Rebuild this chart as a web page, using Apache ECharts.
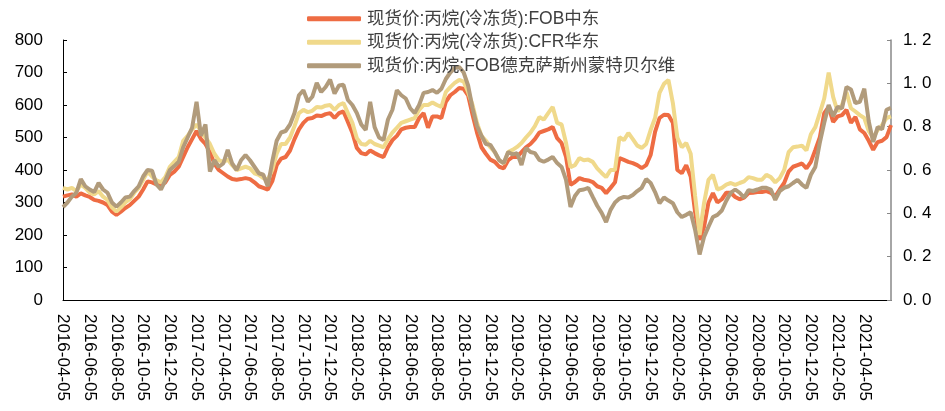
<!DOCTYPE html>
<html>
<head>
<meta charset="utf-8">
<script src="https://cdn.jsdelivr.net/npm/echarts@6/dist/echarts.min.js"></script>
<style>
  html, body { margin: 0; padding: 0; background: #fff; }
  #chart { width: 945px; height: 411px; }
</style>
</head>
<body>
<div id="chart"></div>
<script>
// Sampling days within each month (5th, 15th, 25th), April 2016 to early June 2021
const sampleDays = [5, 15, 25];
const dates = [];
for (let y = 2016; y <= 2021; y++) {
  for (let m = 1; m <= 12; m++) {
    if (y === 2016 && m < 4) continue;
    for (const d of sampleDays) {
      if (y === 2021 && (m > 6 || (m === 6 && d > 5))) continue;
      dates.push(y + '-' + String(m).padStart(2, '0') + '-' + String(d).padStart(2, '0'));
    }
  }
}

// Axis labels shown on the date axis
const tickLabels = [
  '2016-04-05','2016-06-05','2016-08-05','2016-10-05','2016-12-05',
  '2017-02-05','2017-04-05','2017-06-05','2017-08-05','2017-10-05','2017-12-05',
  '2018-02-05','2018-04-05','2018-06-05','2018-08-05','2018-10-05','2018-12-05',
  '2019-02-05','2019-04-05','2019-06-05','2019-08-05','2019-10-05','2019-12-05',
  '2020-02-05','2020-04-05','2020-06-05','2020-08-05','2020-10-05','2020-12-05',
  '2021-02-05','2021-04-05'
];

const seriesNames = [
  '现货价:丙烷(冷冻货):FOB中东',
  '现货价:丙烷(冷冻货):CFR华东',
  '现货价:丙烷:FOB德克萨斯州蒙特贝尔维'
];

// FOB Middle East, USD/t (left axis)
const fobMiddleEast = [
  318,322,325,318,328,322,317,308,305,300,
  292,272,262,272,283,292,305,318,340,365,
  362,356,355,362,385,395,410,440,470,495,
  520,495,480,455,420,400,390,380,372,370,
  372,375,372,362,350,345,340,365,415,435,
  440,460,495,525,545,558,560,568,566,572,
  575,560,575,580,548,515,468,452,448,460,
  452,445,440,470,492,505,525,530,532,532,
  560,575,530,565,565,560,610,630,640,652,
  650,630,570,515,470,450,432,425,410,405,
  430,440,440,455,470,480,495,515,520,525,
  532,498,483,440,354,363,375,370,368,363,
  350,345,329,345,362,437,431,425,421,415,
  406,415,446,517,560,570,569,545,400,390,
  415,380,270,185,225,300,329,300,310,330,
  330,317,310,315,329,330,332,332,335,330,
  318,340,360,395,410,415,420,405,425,462,
  500,575,594,548,565,569,585,545,563,525,
  514,490,462,486,490,501,538
];

// CFR East China, USD/t (left axis)
const cfrEastChina = [
  345,340,345,335,355,345,330,325,335,318,
  308,285,272,285,300,310,330,345,370,395,
  380,368,362,378,410,425,440,490,505,525,
  540,520,500,480,450,430,425,432,415,400,
  405,410,405,390,385,375,370,400,450,480,
  480,500,535,575,585,578,582,594,592,598,
  600,585,600,606,575,545,498,480,478,490,
  480,475,470,495,515,530,545,550,555,560,
  585,600,600,608,600,594,640,655,668,677,
  672,640,600,545,505,490,470,455,430,420,
  455,462,471,483,500,515,535,563,555,575,
  594,545,540,483,409,415,437,430,432,425,
  405,391,378,400,400,501,492,514,495,475,
  468,480,523,560,637,665,677,606,500,470,
  483,450,320,200,298,370,385,340,345,355,
  360,354,360,365,378,375,370,370,385,378,
  362,375,400,455,470,472,475,460,510,532,
  575,620,700,625,580,600,640,590,580,569,
  560,520,500,523,538,560,565
];

// FOB Mont Belvieu, Texas, USD/gal (right axis)
const fobMontBelvieu = [
  0.429,0.450,0.477,0.495,0.558,0.525,0.510,0.498,0.540,0.510,
  0.495,0.450,0.431,0.450,0.473,0.477,0.503,0.525,0.570,0.600,
  0.597,0.533,0.510,0.552,0.600,0.618,0.638,0.705,0.750,0.795,
  0.915,0.758,0.810,0.593,0.645,0.615,0.630,0.693,0.630,0.600,
  0.645,0.669,0.645,0.615,0.585,0.578,0.525,0.638,0.735,0.773,
  0.780,0.810,0.863,0.945,0.968,0.915,0.938,1.002,0.960,0.983,
  1.017,0.953,0.990,0.993,0.923,0.900,0.863,0.810,0.785,0.915,
  0.798,0.750,0.738,0.833,0.878,0.968,0.945,0.930,0.885,0.863,
  0.900,0.956,0.960,0.969,0.956,0.975,1.020,1.050,1.071,1.076,
  1.050,0.990,0.885,0.803,0.758,0.720,0.716,0.683,0.645,0.632,
  0.683,0.672,0.678,0.623,0.702,0.683,0.678,0.647,0.638,0.648,
  0.660,0.632,0.614,0.554,0.429,0.480,0.507,0.510,0.518,0.476,
  0.435,0.402,0.360,0.416,0.450,0.468,0.476,0.473,0.485,0.503,
  0.518,0.558,0.540,0.498,0.447,0.473,0.459,0.447,0.405,0.383,
  0.393,0.405,0.323,0.210,0.291,0.338,0.383,0.393,0.413,0.458,
  0.495,0.510,0.495,0.473,0.507,0.503,0.510,0.518,0.518,0.510,
  0.462,0.503,0.518,0.525,0.540,0.554,0.533,0.518,0.578,0.614,
  0.725,0.818,0.900,0.848,0.891,0.885,0.983,0.972,0.909,0.915,
  0.975,0.825,0.729,0.798,0.788,0.878,0.887
];

const FONT = "'Liberation Sans', Arial, 'Noto Sans CJK SC', sans-serif";
const colors = ['#EE6C43', '#F0D98B', '#B19B7B'];

const chart = echarts.init(document.getElementById('chart'), null, { renderer: 'canvas' });

chart.setOption({
  animation: false,
  color: colors,
  legend: {
    orient: 'vertical',
    left: 302,
    top: 5,
    itemWidth: 54,
    itemHeight: 5,
    itemGap: 6,
    icon: 'roundRect',
    textStyle: { fontFamily: FONT, fontSize: 17.5, color: '#404040', padding: [0, 0, 0, 1] },
    data: seriesNames
  },
  grid: { left: 63, right: 54, top: 40, bottom: 111, containLabel: false },
  xAxis: {
    type: 'category',
    data: dates,
    boundaryGap: false,
    axisLine: { lineStyle: { color: '#000', width: 1 } },
    axisTick: { show: false },
    axisLabel: {
      rotate: -90,
      margin: 14,
      fontFamily: FONT,
      fontSize: 17,
      color: '#000',
      interval: (idx, val) => tickLabels.includes(val)
    },
    splitLine: { show: false }
  },
  yAxis: [
    {
      type: 'value',
      min: 0, max: 800, interval: 100,
      axisLine: { show: true, lineStyle: { color: '#000', width: 1 } },
      axisTick: { show: true, inside: true, length: 4, lineStyle: { color: '#000' } },
      axisLabel: { fontFamily: FONT, fontSize: 17, color: '#000', margin: 20 },
      splitLine: { show: false }
    },
    {
      type: 'value',
      position: 'right',
      min: 0, max: 1.2, interval: 0.2,
      axisLine: { show: true, lineStyle: { color: '#888', width: 1.5 } },
      axisTick: { show: true, inside: true, length: 4, lineStyle: { color: '#888' } },
      axisLabel: {
        fontFamily: FONT, fontSize: 17, color: '#000', margin: 12,
        formatter: v => v.toFixed(1).replace('.', '. ')
      },
      splitLine: { show: false }
    }
  ],
  series: [
    { name: seriesNames[0], type: 'line', yAxisIndex: 0, data: fobMiddleEast,
      showSymbol: false, lineStyle: { width: 4, color: colors[0] } },
    { name: seriesNames[1], type: 'line', yAxisIndex: 0, data: cfrEastChina,
      showSymbol: false, lineStyle: { width: 4, color: colors[1] } },
    { name: seriesNames[2], type: 'line', yAxisIndex: 1, data: fobMontBelvieu,
      showSymbol: false, lineStyle: { width: 4, color: colors[2] } }
  ]
});
</script>
</body>
</html>
